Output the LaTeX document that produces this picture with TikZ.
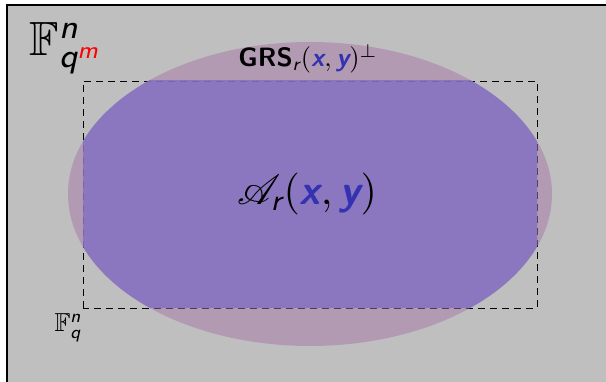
\documentclass[tikz,border=0pt]{standalone}
\usepackage{amsmath,amssymb,mathrsfs}
\definecolor{structure}{rgb}{0.2,0.2,0.7}
\definecolor{grsfill}{RGB}{168,118,168}
\definecolor{arfill}{RGB}{130,111,195}
\newcommand{\sfit}[1]{\text{\sffamily\itshape #1}}
\newcommand{\vecx}{\textcolor{structure}{\text{\sffamily\bfseries\itshape x}}}
\newcommand{\vecy}{\textcolor{structure}{\text{\sffamily\bfseries\itshape y}}}
\begin{document}
\begin{tikzpicture}[x=1pt,y=1pt]
  \useasboundingbox (0,0) rectangle (606,382);
  \draw[fill=black!25, line width=1.5pt] (7,-10) rectangle (620,377);
  % subfield box, then the code and its subcode on top
  \draw[line width=0.8pt, dash pattern=on 7pt off 5pt] (83,74) rectangle (537,301);
  \fill[grsfill, opacity=0.5] (310,188) ellipse (242 and 152);
  \begin{scope}
    \clip (83,74) rectangle (537,301);
    \fill[arfill, opacity=0.8] (310,188) ellipse (242 and 152);
  \end{scope}
  \node[anchor=base west, inner sep=0pt, scale=4.8] (bigfield) at (29,326)
    {$\mathbb{F}^{\sfit{n}}_{\sfit{q}^{\textcolor{red}{\sfit{m}}}}$};
  \node[anchor=base, inner sep=0pt, scale=2.65] (grs) at (308,315)
    {$\text{\sffamily\bfseries GRS}_{\sfit{r}}(\vecx,\vecy)^{\perp}$};
  \node[inner sep=0pt, scale=4.2] (alt) at (307,188)
    {$\mathscr{A}_{\sfit{r}}(\vecx,\vecy)$};
  \node[anchor=base west, inner sep=0pt, scale=2.6] (smallfield) at (54,50)
    {$\mathbb{F}^{\sfit{n}}_{\sfit{q}}$};
\end{tikzpicture}
\end{document}
